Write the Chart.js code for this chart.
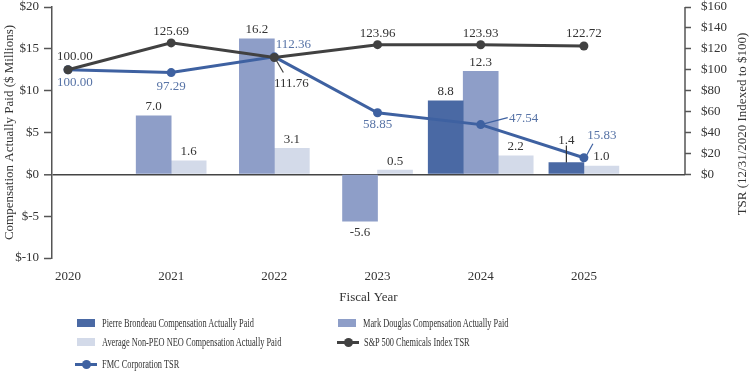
<!DOCTYPE html>
<html><head><meta charset="utf-8">
<script src="https://cdn.jsdelivr.net/npm/chart.js@4.4.1/dist/chart.umd.min.js"></script>
<style>
html,body{margin:0;padding:0;background:#fff;}
#wrap{position:relative;width:750px;height:371px;}
#legend{position:absolute;left:0;top:0;width:750px;height:371px;pointer-events:none;font-family:"Liberation Serif",serif;font-size:11.5px;color:#333;}
.li{position:absolute;display:flex;align-items:center;white-space:nowrap;height:14px;}
.mk{display:inline-block;position:relative;flex:none;}
.tx{display:inline-block;transform:scaleX(0.725);transform-origin:0 50%;}
</style></head>
<body><div id="wrap"><canvas id="c" width="750" height="371"></canvas><div id="legend"></div></div>
<script>
// ---- data ----
const years = [2020, 2021, 2022, 2023, 2024, 2025];
const brondeauCAP = [null, null, null, null, 8.8, 1.4];
const douglasCAP = [null, 7.0, 16.2, -5.6, 12.3, null];
const nonPeoCAP = [null, 1.6, 3.1, 0.5, 2.2, 1.0];
const spChemTSR = [100.00, 125.69, 111.76, 123.96, 123.93, 122.72];
const fmcTSR = [100.00, 97.29, 112.36, 58.85, 47.54, 15.83];
const leftTicks = [-10, -5, 0, 5, 10, 15, 20];
const rightTicks = [0, 20, 40, 60, 80, 100, 120, 140, 160];

// ---- styles ----
const FONT = '"Liberation Serif", "Times New Roman", serif';
const C_PB = '#4a69a4', C_MD = '#8e9ec8', C_NEO = '#d3dae9', C_SP = '#414141', C_FMC = '#3e61a1';
const TXT = '#333333', TXT_FMC = '#5773a6';

// label placement (offsets in px relative to a mark); leader = [x1,y1,x2,y2]
const linePlacement = {
  sp: [[7,-13],[0,-11],[17,26,[2,3,9,15]],[0,-11],[0,-11],[0,-12]],
  fmc: [[7,13],[0,14],[19,-12],[0,12],[43,-6,[4,-1,27,-7]],[18,-22,[3,-3,9,-14]]]
};
const barLeader = {pb: {5: [-22, -17]}};

const dataLabels = {
  id: 'dataLabels',
  afterDatasetsDraw(chart) {
    const ctx = chart.ctx;
    ctx.save();
    ctx.font = '13px ' + FONT;
    ctx.textAlign = 'center';
    ctx.textBaseline = 'middle';
    chart.data.datasets.forEach((ds, di) => {
      const meta = chart.getDatasetMeta(di);
      meta.data.forEach((el, i) => {
        const v = ds.data[i];
        if (v === null || v === undefined) return;
        if (ds.type === 'bar') {
          const txt = v.toFixed(1);
          ctx.fillStyle = TXT;
          const lead = barLeader[ds.key] && barLeader[ds.key][i];
          if (lead) {
            const top = Math.min(el.y, el.base);
            ctx.strokeStyle = TXT; ctx.lineWidth = 1.2;
            ctx.beginPath(); ctx.moveTo(el.x, top); ctx.lineTo(el.x, top + lead[1]); ctx.stroke();
            ctx.fillText(txt, el.x, top + lead[0]);
          } else if (v >= 0) {
            ctx.fillText(txt, el.x, el.y - 9);
          } else {
            ctx.fillText(txt, el.x, el.y + 11);
          }
        } else {
          const pl = linePlacement[ds.key][i];
          const txt = v.toFixed(2);
          const col = ds.key === 'fmc' ? TXT_FMC : TXT;
          ctx.fillStyle = col;
          if (pl[2]) {
            const l = pl[2];
            ctx.strokeStyle = ds.key === 'fmc' ? C_FMC : C_SP; ctx.lineWidth = 1.2;
            ctx.beginPath(); ctx.moveTo(el.x + l[0], el.y + l[1]); ctx.lineTo(el.x + l[2], el.y + l[3]); ctx.stroke();
          }
          ctx.fillText(txt, el.x + pl[0], el.y + pl[1]);
        }
      });
    });
    ctx.restore();
  }
};

const axisExtras = {
  id: 'axisExtras',
  afterDraw(chart) {
    const ctx = chart.ctx;
    const y1 = chart.scales.y1;
    ctx.save();
    ctx.strokeStyle = '#555'; ctx.lineWidth = 1.5;
    ctx.beginPath();
    ctx.moveTo(y1.left, y1.getPixelForValue(rightTicks[0]));
    ctx.lineTo(y1.left, y1.getPixelForValue(rightTicks[rightTicks.length - 1]));
    ctx.stroke();
    // right axis title (reads bottom to top)
    ctx.translate(743, 124);
    ctx.rotate(-Math.PI / 2);
    ctx.font = '13px ' + FONT;
    ctx.fillStyle = TXT;
    ctx.textAlign = 'center'; ctx.textBaseline = 'middle';
    ctx.fillText('TSR (12/31/2020 Indexed to $100)', 0, 0);
    ctx.restore();
  }
};

const noPad = s => { s.paddingTop = 0; s.paddingBottom = 0; };

const chart = new Chart(document.getElementById('c'), {
  data: {
    labels: years,
    datasets: [
      {type: 'bar', key: 'pb', label: 'Pierre Brondeau Compensation Actually Paid', data: brondeauCAP, backgroundColor: C_PB, yAxisID: 'y', order: 2, skipNull: true, barThickness: 35},
      {type: 'bar', key: 'md', label: 'Mark Douglas Compensation Actually Paid', data: douglasCAP, backgroundColor: C_MD, yAxisID: 'y', order: 2, skipNull: true, barThickness: 35},
      {type: 'bar', key: 'neo', label: 'Average Non-PEO NEO Compensation Actually Paid', data: nonPeoCAP, backgroundColor: C_NEO, yAxisID: 'y', order: 2, skipNull: true, barThickness: 35},
      {type: 'line', key: 'sp', label: 'S&P 500 Chemicals Index TSR', data: spChemTSR, borderColor: C_SP, backgroundColor: C_SP, borderWidth: 3, pointRadius: 4.5, pointBackgroundColor: C_SP, pointBorderWidth: 0, yAxisID: 'y1', order: 0, tension: 0},
      {type: 'line', key: 'fmc', label: 'FMC Corporation TSR', data: fmcTSR, borderColor: C_FMC, backgroundColor: C_FMC, borderWidth: 3, pointRadius: 4.5, pointBackgroundColor: C_FMC, pointBorderWidth: 0, yAxisID: 'y1', order: 1, tension: 0}
    ]
  },
  options: {
    responsive: false,
    animation: false,
    events: [],
    layout: {padding: {top: 7, left: 0, right: 0, bottom: 0}},
    plugins: {legend: {display: false}, tooltip: {enabled: false}},
    scales: {
      x: {
        type: 'linear', min: 2019.845, max: 2025.98, offset: false,
        afterBuildTicks: s => { s.ticks = years.map(v => ({value: v})); },
        afterFit: s => { s.height = 113; },
        grid: {display: false}, border: {display: false},
        ticks: {autoSkip: false, maxRotation: 0, padding: 3, color: TXT, font: {family: FONT, size: 13}, callback: v => String(v)},
        title: {display: true, text: 'Fiscal Year', color: TXT, font: {family: FONT, size: 13}, padding: {top: 0, bottom: 66}}
      },
      y: {
        position: 'left', min: -10, max: 20,
        afterBuildTicks: s => { s.ticks = leftTicks.map(v => ({value: v})); },
        afterFit: s => { s.width = 52; noPad(s); },
        border: {display: true, color: '#555', width: 1.5},
        grid: {
          color: c => (c.tick && c.tick.value === 0) ? '#444' : 'rgba(0,0,0,0)',
          lineWidth: c => (c.tick && c.tick.value === 0) ? 1.6 : 1,
          tickColor: '#555', tickLength: 8, tickWidth: 1.5
        },
        ticks: {padding: 5, color: TXT, font: {family: FONT, size: 13}, callback: v => '$' + v},
        title: {display: true, text: 'Compensation Actually Paid ($ Millions)', color: TXT, font: {family: FONT, size: 13}, padding: {top: 2, bottom: 0}}
      },
      y1: {
        position: 'right', min: -80, max: 160,
        afterBuildTicks: s => { s.ticks = rightTicks.map(v => ({value: v})); },
        afterFit: s => { s.width = 65; noPad(s); },
        border: {display: false},
        grid: {drawOnChartArea: false, color: '#555', tickColor: '#555', tickLength: 6, tickWidth: 1.5},
        ticks: {padding: 10, color: TXT, font: {family: FONT, size: 13}, callback: v => '$' + v}
      }
    }
  },
  plugins: [dataLabels, axisExtras]
});

// ---- legend (HTML, built from the datasets) ----
const legendSlots = [
  {left: 77, cy: 323}, {left: 338, cy: 323},
  {left: 77, cy: 342}, {left: 337, cy: 342},
  {left: 75, cy: 364}
];
const lg = document.getElementById('legend');
chart.data.datasets.forEach((ds, i) => {
  const s = legendSlots[i];
  const item = document.createElement('div');
  item.className = 'li';
  item.style.left = s.left + 'px';
  item.style.top = (s.cy - 7) + 'px';
  const mk = document.createElement('span');
  mk.className = 'mk';
  if (ds.type === 'bar') {
    mk.style.width = '18px'; mk.style.height = '8px'; mk.style.background = ds.backgroundColor; mk.style.marginRight = '7px';
  } else {
    mk.style.width = '22px'; mk.style.height = '10px'; mk.style.marginRight = '5px';
    mk.innerHTML = '<span style="position:absolute;left:0;top:3.5px;width:22px;height:3px;background:' + ds.borderColor + '"></span>' +
      '<span style="position:absolute;left:6.5px;top:0.5px;width:9px;height:9px;border-radius:50%;background:' + ds.borderColor + '"></span>';
  }
  const tx = document.createElement('span');
  tx.className = 'tx';
  tx.textContent = ds.label;
  item.appendChild(mk); item.appendChild(tx);
  lg.appendChild(item);
});
</script>
</body></html>
